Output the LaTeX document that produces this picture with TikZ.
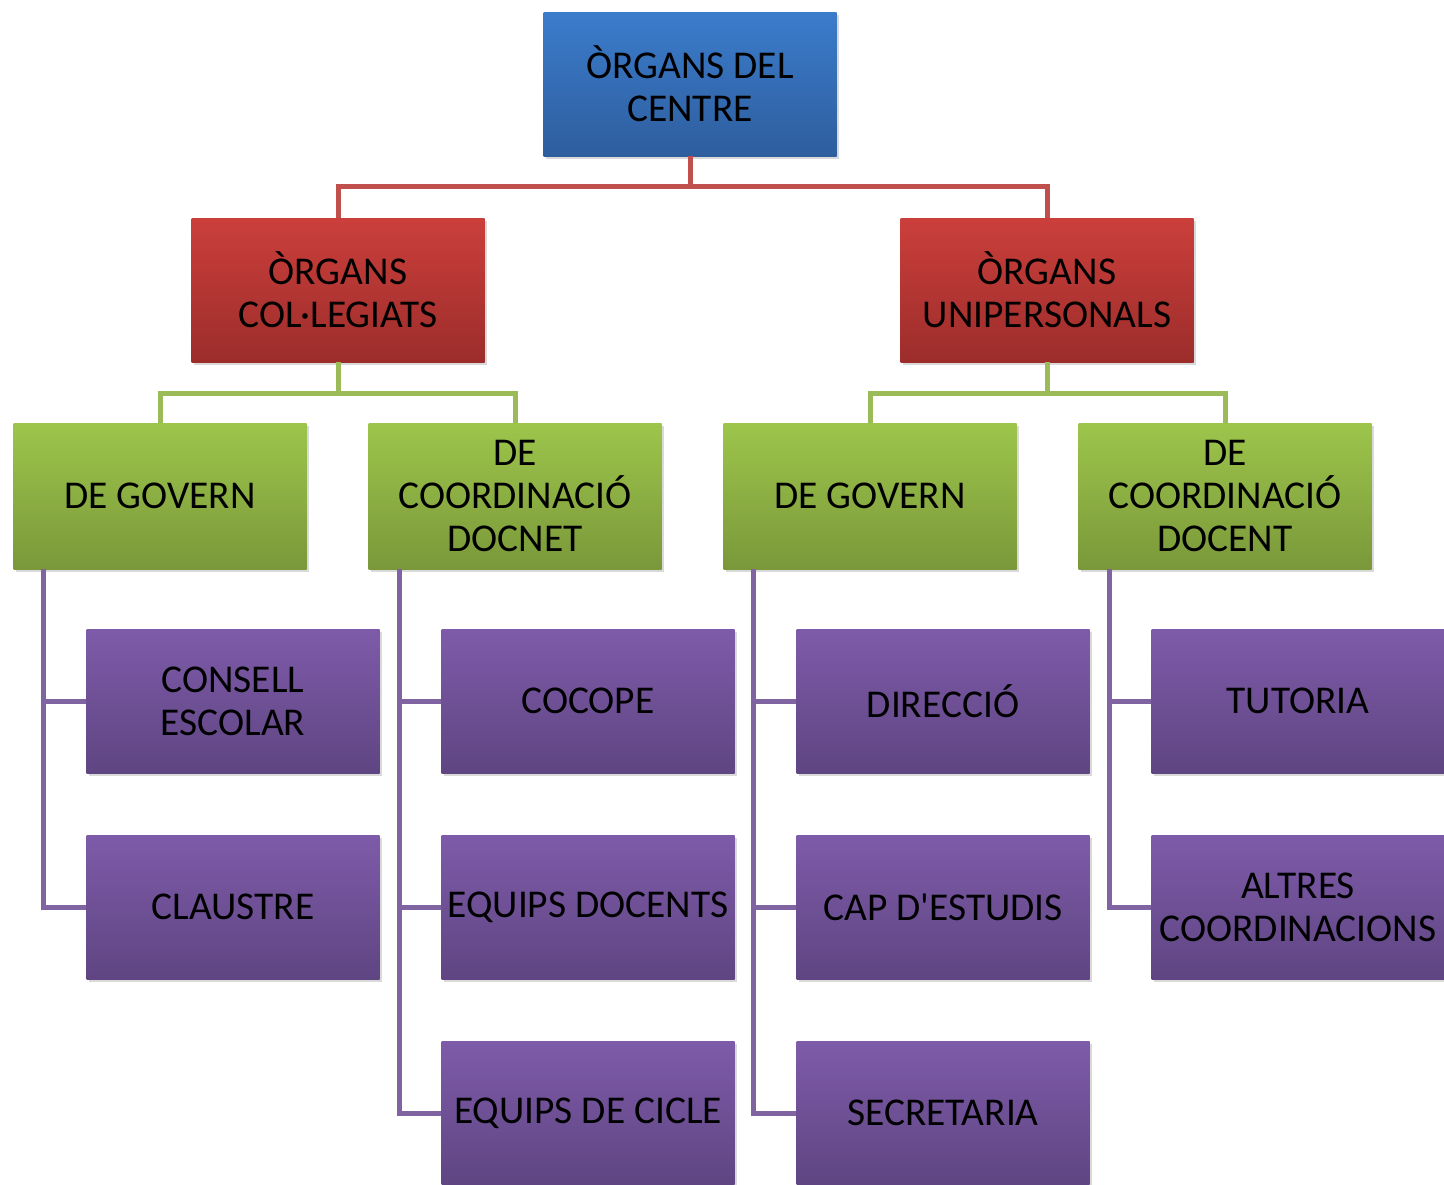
\documentclass[tikz,border=0pt]{standalone}
\usepackage{fontspec}
\setmainfont{Carlito}
\usetikzlibrary{positioning, shadows}

\definecolor{blautop}{HTML}{3B7CCB}
\definecolor{blaubot}{HTML}{2E5E9E}
\definecolor{vermtop}{HTML}{CB3F3B}
\definecolor{vermbot}{HTML}{9C2D2B}
\definecolor{verdtop}{HTML}{9DC54B}
\definecolor{verdbot}{HTML}{7A983A}
\definecolor{liltop}{HTML}{7E5BA9}
\definecolor{lilbot}{HTML}{5F4582}
\definecolor{vermline}{HTML}{C0504D}
\definecolor{verdline}{HTML}{9BBB59}
\definecolor{lilline}{HTML}{8064A2}

\tikzset{
  caixa/.style={rectangle, minimum width=146.5pt, minimum height=72pt, inner sep=0pt,
    align=center, font=\fontsize{19.7}{21.5}\selectfont,
    drop shadow={opacity=0.3, shadow xshift=1pt, shadow yshift=-1.5pt}},
  centre/.style={caixa, top color=blautop, bottom color=blaubot},
  organ/.style={caixa, top color=vermtop, bottom color=vermbot},
  tipus/.style={caixa, top color=verdtop, bottom color=verdbot, minimum height=73pt},
  carrec/.style={caixa, top color=liltop, bottom color=lilbot},
  lvermell/.style={draw=vermline, line width=2.5pt},
  lverd/.style={draw=verdline, line width=2.5pt},
  llila/.style={draw=lilline, line width=2.5pt}
}

\begin{document}
\begin{tikzpicture}[x=0.5pt, y=-0.5pt, node distance=177.5pt]
  \useasboundingbox (0,0) rectangle (1444,1184);

  \node[centre] (org) at (690,84) {ÒRGANS DEL\\CENTRE};
  \node[organ] (colleg) at (338,290) {ÒRGANS\\COL·LEGIATS};
  \node[organ] (uniper) at (1047,290) {ÒRGANS\\UNIPERSONALS};

  \node[tipus] (govc) at (160,496) {DE GOVERN};
  \node[tipus, right of=govc] (coordc) {DE\\COORDINACIÓ\\DOCNET};
  \node[tipus, right of=coordc] (govu) {DE GOVERN};
  \node[tipus, right of=govu] (coordu) {DE\\COORDINACIÓ\\DOCENT};

  \node[carrec] (consell) at (233,701) {CONSELL\\ESCOLAR};
  \node[carrec, right of=consell] (cocope) {COCOPE};
  \node[carrec, right of=cocope] (direccio) {DIRECCIÓ};
  \node[carrec, right of=direccio] (tutoria) {TUTORIA};

  \node[carrec] (claustre) at (233,907) {CLAUSTRE};
  \node[carrec, right of=claustre] (equips) {EQUIPS DOCENTS};
  \node[carrec, right of=equips] (capest) {CAP D\textquotesingle ESTUDIS};
  \node[carrec, right of=capest] (altres) {ALTRES\\COORDINACIONS};

  \node[carrec] (cicle) at (588,1113) {EQUIPS DE CICLE};
  \node[carrec, right of=cicle] (secret) {SECRETARIA};

  % primer nivell
  \draw[lvermell] (org.south) -- ++(0,30) -| (colleg.north);
  \draw[lvermell] (org.south) -- ++(0,30) -| (uniper.north);

  % segon nivell
  \draw[lverd] (colleg.south) -- ++(0,31) -| (govc.north);
  \draw[lverd] (colleg.south) -- ++(0,31) -| (coordc.north);
  \draw[lverd] (uniper.south) -- ++(0,31) -| (govu.north);
  \draw[lverd] (uniper.south) -- ++(0,31) -| (coordu.north);

  % tercer nivell
  \draw[llila] ([xshift=15pt]govc.south west) |- (consell.west);
  \draw[llila] ([xshift=15pt]govc.south west) |- (claustre.west);
  \draw[llila] ([xshift=15.5pt]coordc.south west) |- (cocope.west);
  \draw[llila] ([xshift=15.5pt]coordc.south west) |- (equips.west);
  \draw[llila] ([xshift=15.5pt]coordc.south west) |- (cicle.west);
  \draw[llila] ([xshift=15pt]govu.south west) |- (direccio.west);
  \draw[llila] ([xshift=15pt]govu.south west) |- (capest.west);
  \draw[llila] ([xshift=15pt]govu.south west) |- (secret.west);
  \draw[llila] ([xshift=15.5pt]coordu.south west) |- (tutoria.west);
  \draw[llila] ([xshift=15.5pt]coordu.south west) |- (altres.west);
\end{tikzpicture}
\end{document}
